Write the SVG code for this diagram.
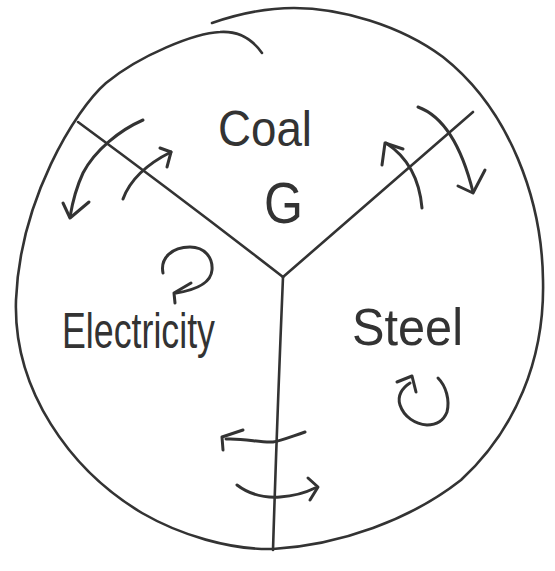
<svg xmlns="http://www.w3.org/2000/svg" width="555" height="571" viewBox="0 0 555 571">
<style>
.ln{fill:none;stroke:#333;stroke-width:2.6;stroke-linecap:round;stroke-linejoin:round}
.ar{fill:none;stroke:#333;stroke-width:3;stroke-linecap:round;stroke-linejoin:round}
.tx{font-family:"Liberation Sans","DejaVu Sans",Arial,sans-serif;fill:#333}
</style>
<rect width="555" height="571" fill="#fff"/>
<g id="outline">
<path class="ln" d="M262,53 C250,36 235,31 220,32 C195,33 140,55 106,83 C75,110 20,200 16,300 C13,390 70,470 142,513 C180,535 230,550 273,549 C340,545 410,520 461,480 C515,430 545,360 543,280 C542,200 510,110 443,57 C400,25 340,8 294,8 C265,8 235,15 212,23"/>
</g>
<g id="dividers">
<path class="ln" d="M78,122 Q180,197 283,277"/>
<path class="ln" d="M473,112 L283,277"/>
<path class="ln" d="M283,277 Q277,420 273,550"/>
</g>
<g id="coal">
<text class="tx" x="218" y="146" font-size="50" textLength="94" lengthAdjust="spacingAndGlyphs">Coal</text>
<text class="tx" x="264" y="223" font-size="58" textLength="39" lengthAdjust="spacingAndGlyphs">G</text>
</g>
<g id="electricity">
<text class="tx" x="62" y="348" font-size="50" textLength="153" lengthAdjust="spacingAndGlyphs">Electricity</text>
<path class="ar" d="M163,273 C160,258 172,247 190,247 C205,247 213,258 212,270 C211,283 195,290 176,293"/>
<path class="ar" d="M191,283 L174,293 L175,303"/>
</g>
<g id="steel">
<text class="tx" x="352" y="345" font-size="52" textLength="111" lengthAdjust="spacingAndGlyphs">Steel</text>
<path class="ar" d="M438,378 C446,386 450,400 447,412 C443,422 435,425 427,425 C415,424 404,417 400,405 C397,396 402,388 410,383"/>
<path class="ar" d="M397,382 L412,376 L416,392"/>
</g>
<g id="connectors">
<path class="ar" d="M143,120 C120,130 95,150 83,173 C76,188 72,205 70,217"/>
<path class="ar" d="M63,203 L70,218 L89,202"/>
<path class="ar" d="M123,199 C130,180 145,165 171,152"/>
<path class="ar" d="M160,148 L171,152 L167,167"/>
<path class="ar" d="M422,208 C420,185 412,160 386,143"/>
<path class="ar" d="M382,165 L385,143 L403,149"/>
<path class="ar" d="M418,107 C440,115 460,140 473,192"/>
<path class="ar" d="M458,186 L473,193 L485,170"/>
<path class="ar" d="M305,432 C290,437 280,441 273,442 C260,443 245,438 226,439"/>
<path class="ar" d="M243,430 L222,437 L223,450"/>
<path class="ar" d="M237,485 C250,495 265,498 280,497 C295,496 305,493 315,488"/>
<path class="ar" d="M308,478 L318,487 L310,500"/>
</g>
</svg>
